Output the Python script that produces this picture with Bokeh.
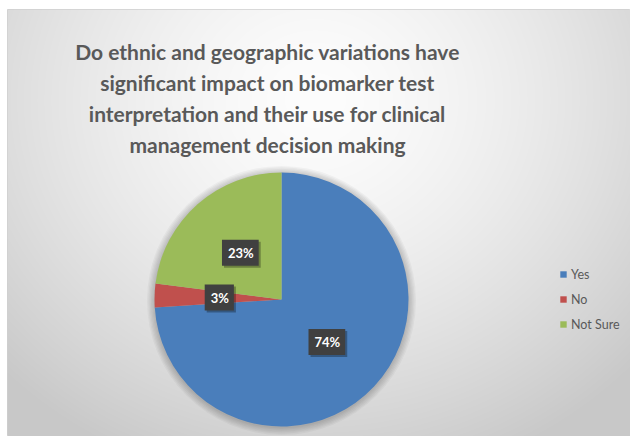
import numpy as np
from bokeh.plotting import figure
from bokeh.models import Range1d, ColumnDataSource, Legend, LegendItem
from bokeh.core.properties import value
from bokeh.embed import file_html
from bokeh.resources import INLINE

# ---- data ----
categories = ["Yes", "No", "Not Sure"]
percents = [74, 3, 23]
colors = ["#4a7ebb", "#c0504d", "#9bbb59"]
title_lines = [
    "Do ethnic and geographic variations have",
    "significant impact on biomarker test",
    "interpretation and their use for clinical",
    "management decision making",
]

# ---- layout (page-pixel based; data y = 436 - page y) ----
FW, FH = 630, 436
BL, BT = 7, 9
W, H = FW - BL, FH - BT
CX, CY = 281, 436 - 299
R = 127

p = figure(width=FW, height=FH, x_range=Range1d(BL, FW), y_range=Range1d(0, H),
           output_backend="svg", toolbar_location=None,
           min_border_left=BL, min_border_top=BT, min_border_right=0,
           min_border_bottom=0)
p.axis.visible = False
p.grid.visible = False
p.outline_line_color = "#d0d0d0"
p.background_fill_color = "#e6e6e6"
p.border_fill_color = "#ffffff"

# background radial gradient (decorative)
jj, ii = np.meshgrid(np.arange(W), np.arange(H))
px = BL + jj + 0.5
py = FH - ii - 0.5
rr = np.sqrt(((px - 315) / 420.0) ** 2 + ((py - 100) / 380.0) ** 2)
v = np.clip(253 - 50 * rr ** 1.5, 200, 253).astype(np.uint8)
img = np.empty((H, W), dtype=np.uint32)
view = img.view(dtype=np.uint8).reshape((H, W, 4))
view[:, :, 0] = v
view[:, :, 1] = v
view[:, :, 2] = v
view[:, :, 3] = 255
p.image_rgba(image=[img], x=BL, y=0, dw=W, dh=H)

# soft shadow around the pie
for k in range(6):
    p.circle(x=CX, y=CY - 1, radius=R + 1 + k * 1.3, fill_color="#000000",
             fill_alpha=0.035, line_color=None)

# ---- pie ----
frac = np.array(percents) / sum(percents)
cum = np.concatenate([[0], np.cumsum(frac)])
start = np.pi / 2 - 2 * np.pi * cum[:-1]
end = np.pi / 2 - 2 * np.pi * cum[1:]
wedges = []
for i in range(len(categories)):
    w = p.wedge(x=CX, y=CY, radius=R, start_angle=start[i], end_angle=end[i],
                direction="clock", fill_color=colors[i], line_color=None)
    wedges.append(w)

# data labels
mid = (cum[:-1] + cum[1:]) / 2 * 2 * np.pi
lx = CX + 0.49 * R * np.sin(mid)
ly = CY + 0.49 * R * np.cos(mid)
labels = [f"{v}%" for v in percents]
lsrc = ColumnDataSource(dict(x=lx, y=ly, t=labels))
pad = [6, 5, 5, 5]
p.text(x="x", y="y", text="t", source=lsrc, x_offset=2, y_offset=2,
       text_align="center", text_baseline="middle", text_alpha=0,
       text_font=value("Lato"), text_font_style="bold", text_font_size="13px",
       background_fill_color="#000000", background_fill_alpha=0.3,
       padding=pad)
p.text(x="x", y="y", text="t", source=lsrc,
       text_align="center", text_baseline="middle", text_color="#ffffff",
       text_font=value("Lato"), text_font_style="bold", text_font_size="13px",
       background_fill_color="#404040", background_fill_alpha=1,
       padding=pad)

# title
baselines = [436 - b for b in [50.7, 81.7, 112.7, 143.7]]
tsrc = ColumnDataSource(dict(x=[267] * 4, y=baselines, t=title_lines))
p.text(x="x", y="y", text="t", source=tsrc, text_align="center",
       text_baseline="alphabetic", text_color="#595959",
       text_font=value("Lato"), text_font_style="bold", text_font_size="21px")

# legend
legend = Legend(items=[LegendItem(label=categories[i], renderers=[wedges[i]])
                       for i in range(len(categories))],
                location=(552, 102), orientation="vertical",
                padding=0, margin=0, spacing=5, label_height=20,
                glyph_height=8, glyph_width=8, label_standoff=4,
                label_text_font="Lato", label_text_font_size="12.5px",
                label_text_color="#595959", background_fill_alpha=0,
                border_line_color=None)
p.add_layout(legend, "center")

open("out.html", "w").write(file_html(p, INLINE))
